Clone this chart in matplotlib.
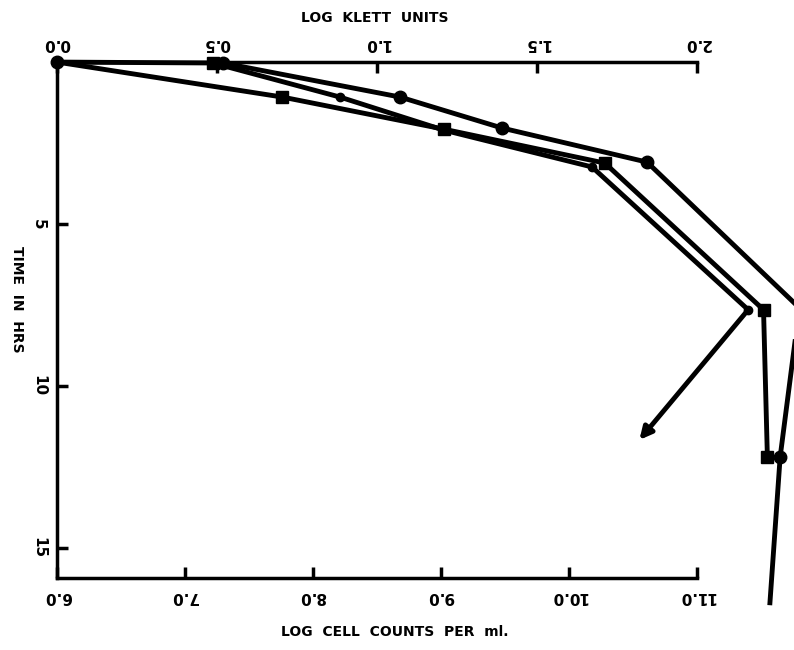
import numpy as np
import matplotlib
matplotlib.use('agg')
import matplotlib.pyplot as plt

# log cell counts per ml (x) against time in hrs (y)
circ_logc = [6.0, 7.30, 8.68, 9.48, 10.61, 11.80, 11.65, 11.57]
circ_time = [0.0, 0.03, 1.08, 2.04, 3.09, 7.59, 12.19, 16.70]

sq_logc = [6.0, 7.76, 9.02, 10.28, 11.52, 11.55]
sq_time = [0.0, 1.08, 2.07, 3.12, 7.65, 12.19]

tri_logc = [7.22, 8.21, 9.02, 10.18, 11.40, 10.55]
tri_time = [0.03, 1.08, 2.10, 3.24, 7.65, 11.67]

x_ticks = [6.0, 7.0, 8.0, 9.0, 10.0, 11.0]
x_labels = ['6.0', '7.0', '8.0', '9.0', '10.0', '11.0']
klett_ticks = [0.0, 0.5, 1.0, 1.5, 2.0]
klett_labels = ['0.0', '0.5', '1.0', '1.5', '2.0']
t_ticks = [5, 10, 15]

fig = plt.figure(figsize=(7.94, 6.5), dpi=100)
ax = fig.add_axes([0.0718, 0.111, 0.806, 0.7935])

lw = 3.5
ax.plot(tri_logc[:-1], tri_time[:-1], color='black', lw=lw, marker='o', ms=6, clip_on=False)
ax.plot(tri_logc[0], tri_time[0], color='black', marker='s', ms=8, clip_on=False)
ax.annotate('', xy=(tri_logc[-1], tri_time[-1]), xytext=(tri_logc[-2], tri_time[-2]),
            arrowprops=dict(arrowstyle='-|>', lw=lw, color='black', mutation_scale=18,
                            shrinkA=0, shrinkB=0), annotation_clip=False)
ax.plot(sq_logc, sq_time, color='black', lw=lw, marker='s', ms=9,
        markevery=list(range(1, len(sq_logc))), clip_on=False)
ax.plot(circ_logc, circ_time, color='black', lw=lw, marker='o', ms=9,
        markevery=[0, 1, 2, 3, 4, 6], clip_on=False)

ax.set_xlim(6.0, 11.0)
ax.set_ylim(15.93, 0)
ax.spines['right'].set_visible(False)
for s in ['left', 'bottom', 'top']:
    ax.spines[s].set_linewidth(2.5)

ax.set_xticks(x_ticks)
ax.set_xticklabels(x_labels, rotation=180, fontsize=11, fontweight='bold')
ax.set_yticks(t_ticks)
ax.set_yticklabels([str(t) for t in t_ticks], rotation=-90, fontsize=11,
                   fontweight='bold', va='center')
ax.tick_params(axis='both', direction='in', length=8, width=2.5, pad=8)

# top axis in Klett units
top = ax.secondary_xaxis('top', functions=(lambda v: (v - 6.0) * 0.4,
                                           lambda k: k / 0.4 + 6.0))
top.set_xticks(klett_ticks)
top.set_xticklabels(klett_labels, rotation=180, fontsize=11, fontweight='bold')
top.tick_params(direction='in', length=8, width=2.5, pad=8)
top.spines['top'].set_visible(False)

fig.text(0.472, 0.973, 'LOG  KLETT  UNITS', ha='center', va='center',
         fontsize=10, fontweight='heavy')
fig.text(0.497, 0.028, 'LOG  CELL  COUNTS  PER  ml.', ha='center', va='center',
         fontsize=10, fontweight='heavy')
fig.text(0.022, 0.54, 'TIME  IN  HRS', ha='center', va='center', rotation=-90,
         fontsize=10, fontweight='heavy')

plt.savefig('out.png', dpi=100)
